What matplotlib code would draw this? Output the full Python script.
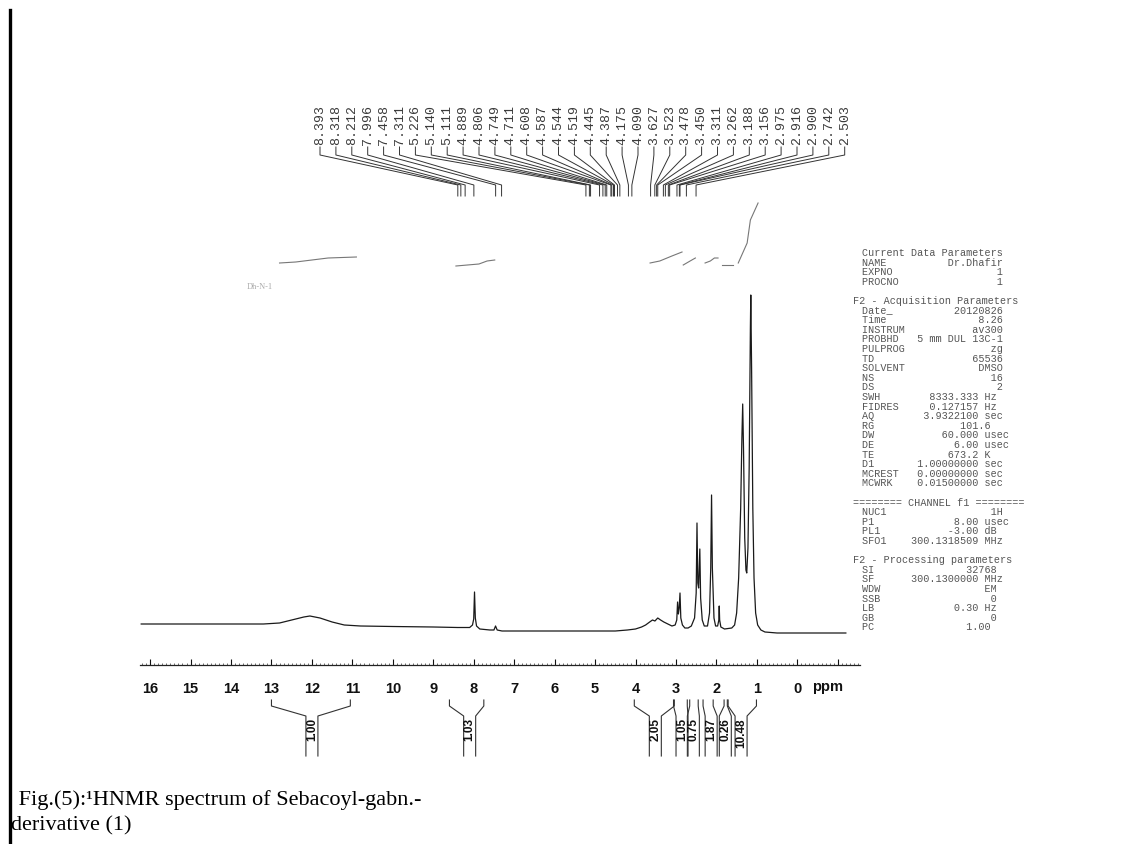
import numpy as np
import matplotlib
matplotlib.use('Agg')
from matplotlib import pyplot as plt
from matplotlib.ticker import MultipleLocator, FixedLocator, FixedFormatter

W, H = 1144, 844

# --- data ---
# spectrum trace: chemical shift [ppm] and height above baseline [arb.]
trace_ppm = [16.22, 15.0, 14.0, 13.2, 12.8, 12.5, 12.2, 12.05, 11.8, 11.5, 11.2, 10.8,
             10.0, 9.0, 8.4, 8.10, 8.03, 8.00, 7.98, 7.96, 7.93, 7.85, 7.60, 7.50,
             7.46, 7.42, 7.30, 6.5, 5.5, 5.0, 4.5, 4.2, 4.0, 3.85, 3.75, 3.65, 3.58,
             3.52, 3.45, 3.38, 3.30, 3.20, 3.10, 3.02, 2.98, 2.96, 2.94, 2.92, 2.90,
             2.88, 2.84, 2.78, 2.70, 2.62, 2.54, 2.50, 2.48, 2.46, 2.44, 2.41, 2.39,
             2.35, 2.30, 2.22, 2.17, 2.14, 2.12, 2.10, 2.06, 2.02, 1.97, 1.94, 1.93,
             1.92, 1.89, 1.80, 1.62, 1.55, 1.50, 1.45, 1.40, 1.37, 1.35, 1.33, 1.30,
             1.27, 1.25, 1.22, 1.19, 1.16, 1.15, 1.13, 1.10, 1.07, 1.03, 0.98, 0.90,
             0.80, 0.50, 0.0, -0.6, -1.2]
trace_int = [4, 4, 4, 4, 5, 8, 11, 12, 10, 6, 3, 2,
             1.5, 1, 0.5, 0.5, 3, 9, 36, 10, 2, -1, -2, -2,
             2, -2, -3, -3, -3, -3, -3, -2, -1, 1, 3, 6, 8,
             7, 10, 8, 6, 4, 2, 3, 8, 26, 14, 20, 35,
             10, 3, 0, 0, 2, 10, 35, 105, 45, 40, 79, 30,
             8, 2, 2, 15, 60, 133, 60, 10, 2, 2, 8, 22,
             8, 1, -1, 0, 3, 15, 50, 120, 190, 224, 180, 90,
             58, 55, 80, 160, 300, 333, 260, 120, 50, 15, 3, -2,
             -4, -5, -5, -5, -5]

# integral curves above the spectrum
integral_ppm = [[12.8, 12.4, 12.0, 11.6, 10.9],
                [8.44, 7.87, 7.67, 7.48],
                [3.64, 3.40, 3.10, 2.85],
                [2.82, 2.65, 2.52],
                [2.28, 2.15, 2.05, 1.96],
                [1.86, 1.58],
                [1.46, 1.24, 1.16, 0.97]]
integral_lvl = [[365, 366, 368, 370, 371],
                [362, 364, 367, 368],
                [365, 367, 372, 376],
                [363, 367, 370],
                [365, 367, 370, 370],
                [363, 363],
                [365, 385, 408, 425]]

# integration regions below the axis
int_values = ['1.00', '1.03', '2.05', '1.05', '0.75', '1.87', '0.26', '10.48']
int_start = [13.0, 8.60, 4.03, 3.06, 2.66, 2.33, 1.81, 1.71]
int_end = [11.05, 7.75, 3.04, 2.72, 2.45, 2.08, 1.73, 1.01]
int_label_ppm = [12.0, 8.10, 3.51, 2.85, 2.57, 2.13, 1.78, 1.39]

# peak picking labels
peak_ppm = [8.393, 8.318, 8.212, 7.996, 7.458, 7.311, 5.226, 5.140, 5.111, 4.889,
            4.806, 4.749, 4.711, 4.608, 4.587, 4.544, 4.519, 4.445, 4.387, 4.175,
            4.090, 3.627, 3.523, 3.478, 3.450, 3.311, 3.262, 3.188, 3.156, 2.975,
            2.916, 2.900, 2.742, 2.503]

tick_ppm = [16, 15, 14, 13, 12, 11, 10, 9, 8, 7, 6, 5, 4, 3, 2, 1, 0, -1]
tick_text = ['16', '15', '14', '13', '12', '11', '10', '9', '8', '7', '6', '5',
             '4', '3', '2', '1', '0', '']

# parameter listing: (name, value, unit, column where value ends); None = blank line
params = [
    ('Current Data Parameters', None, '', 0),
    ('NAME', 'Dr.Dhafir', '', 23),
    ('EXPNO', '1', '', 23),
    ('PROCNO', '1', '', 23),
    None,
    ('F2 - Acquisition Parameters', None, '', -1.5),
    ('Date_', '20120826', '', 23),
    ('Time', '8.26', '', 23),
    ('INSTRUM', 'av300', '', 23),
    ('PROBHD', '5 mm DUL 13C-1', '', 23),
    ('PULPROG', 'zg', '', 23),
    ('TD', '65536', '', 23),
    ('SOLVENT', 'DMSO', '', 23),
    ('NS', '16', '', 23),
    ('DS', '2', '', 23),
    ('SWH', '8333.333', 'Hz', 19),
    ('FIDRES', '0.127157', 'Hz', 19),
    ('AQ', '3.9322100', 'sec', 19),
    ('RG', '101.6', '', 21),
    ('DW', '60.000', 'usec', 19),
    ('DE', '6.00', 'usec', 19),
    ('TE', '673.2', 'K', 19),
    ('D1', '1.00000000', 'sec', 19),
    ('MCREST', '0.00000000', 'sec', 19),
    ('MCWRK', '0.01500000', 'sec', 19),
    None,
    ('======== CHANNEL f1 ========', None, '', -1.5),
    ('NUC1', '1H', '', 23),
    ('P1', '8.00', 'usec', 19),
    ('PL1', '-3.00', 'dB', 19),
    ('SFO1', '300.1318509', 'MHz', 19),
    None,
    ('F2 - Processing parameters', None, '', -1.5),
    ('SI', '32768', '', 22),
    ('SF', '300.1300000', 'MHz', 19),
    ('WDW', 'EM', '', 22),
    ('SSB', '0', '', 22),
    ('LB', '0.30', 'Hz', 19),
    ('GB', '0', '', 22),
    ('PC', '1.00', '', 21),
]

fig = plt.figure(figsize=(W / 100, H / 100), dpi=100)

# main spectrum axes (ruler at y=665 px)
ax_left, ax_right, ax_top, ax_bot = 140, 860, 200, 665
ax = fig.add_axes([ax_left / W, (H - ax_bot) / H, (ax_right - ax_left) / W, (ax_bot - ax_top) / H])
ax.set_xlim(16.25, -1.55)
ax.set_ylim(-(ax_bot - 628), 628 - ax_top)
ax.plot(trace_ppm, trace_int, color='#1a1a1a', lw=0.9)
for xs, ys in zip(integral_ppm, integral_lvl):
    ax.plot(xs, ys, color='#777777', lw=0.8)

for s in ['left', 'right', 'top']:
    ax.spines[s].set_visible(False)
ax.spines['bottom'].set_linewidth(0.9)
ax.spines['bottom'].set_color('#222222')
ax.set_yticks([])
ax.xaxis.set_major_locator(FixedLocator(tick_ppm))
ax.xaxis.set_major_formatter(FixedFormatter(tick_text))
ax.xaxis.set_minor_locator(MultipleLocator(0.1))
ax.tick_params(axis='x', which='major', direction='in', length=4, width=0.8,
               labelsize=10.5, pad=12, colors='#111111')
ax.tick_params(axis='x', which='minor', direction='in', length=1.8, width=0.5, colors='#333333')
plt.setp(ax.get_xticklabels(), fontweight='bold', family='Liberation Sans')
ax.patch.set_alpha(0)

# pixel overlay for annotations
pix = fig.add_axes([0, 0, 1, 1])
pix.set_xlim(0, W)
pix.set_ylim(H, 0)
pix.axis('off')
pix.patch.set_alpha(0)


def ppm2px(p):
    return ax.transData.transform((p, 0))[0]


pix.text(ppm2px(-0.75), 687, 'ppm', fontsize=10.5, fontweight='bold',
         family='Liberation Sans', ha='center', va='center', color='#111111')

# peak labels with leader lines
x0, dx = 320, 15.9
for i, p in enumerate(peak_ppm):
    xl = x0 + i * dx
    xp = ppm2px(p)
    pix.text(xl, 145, f'{p:.3f}', rotation=90, ha='center', va='bottom',
             family='Liberation Mono', fontsize=9.5, color='#3a3a3a')
    pix.plot([xl, xl, xp, xp], [147, 155, 185, 196], color='#333333', lw=0.7)

# integration brackets
hw = 6
for v, s, e, lp in zip(int_values, int_start, int_end, int_label_ppm):
    xs, xe, xl = ppm2px(s), ppm2px(e), ppm2px(lp)
    pix.plot([xs, xs, xl - hw, xl - hw], [700, 706, 716, 756], color='#333333', lw=0.8)
    pix.plot([xe, xe, xl + hw, xl + hw], [700, 706, 716, 756], color='#333333', lw=0.8)
    pix.text(xl, 718, v, rotation=90, ha='center', va='top', fontsize=8.5,
             fontweight='bold', family='Liberation Sans', color='#111111')

# acquisition parameter panel (monospaced, 6.1 px per character)
cw = 6.1
y = 253
for row in params:
    if row is None:
        y += 9.6
        continue
    name, val, unit, end = row
    if val is None:
        txt, xoff = name, end * cw
    else:
        txt = name + ' ' * max(1, end - len(name) - len(val)) + val
        if unit:
            txt += ' ' + unit
        xoff = 0
    pix.text(862 + xoff, y, txt, family='Liberation Mono', fontsize=7.3,
             color='#555555', ha='left', va='center')
    y += 9.6

pix.text(247, 287, 'Dh-N-1', family='Liberation Serif', fontsize=6, color='#aaaaaa',
         ha='left', va='center')

# left border of the scanned page
pix.plot([9.5, 9.5], [10, H], color='black', lw=2.4)

# caption
pix.text(13, 800, ' Fig.(5):\u00b9HNMR spectrum of Sebacoyl-gabn.-', family='Liberation Serif',
         fontsize=16, color='black', ha='left', va='center')
pix.text(11, 826, 'derivative (1)', family='Liberation Serif', fontsize=16,
         color='black', ha='left', va='center')

fig.savefig('out.png', dpi=100, facecolor='white')
